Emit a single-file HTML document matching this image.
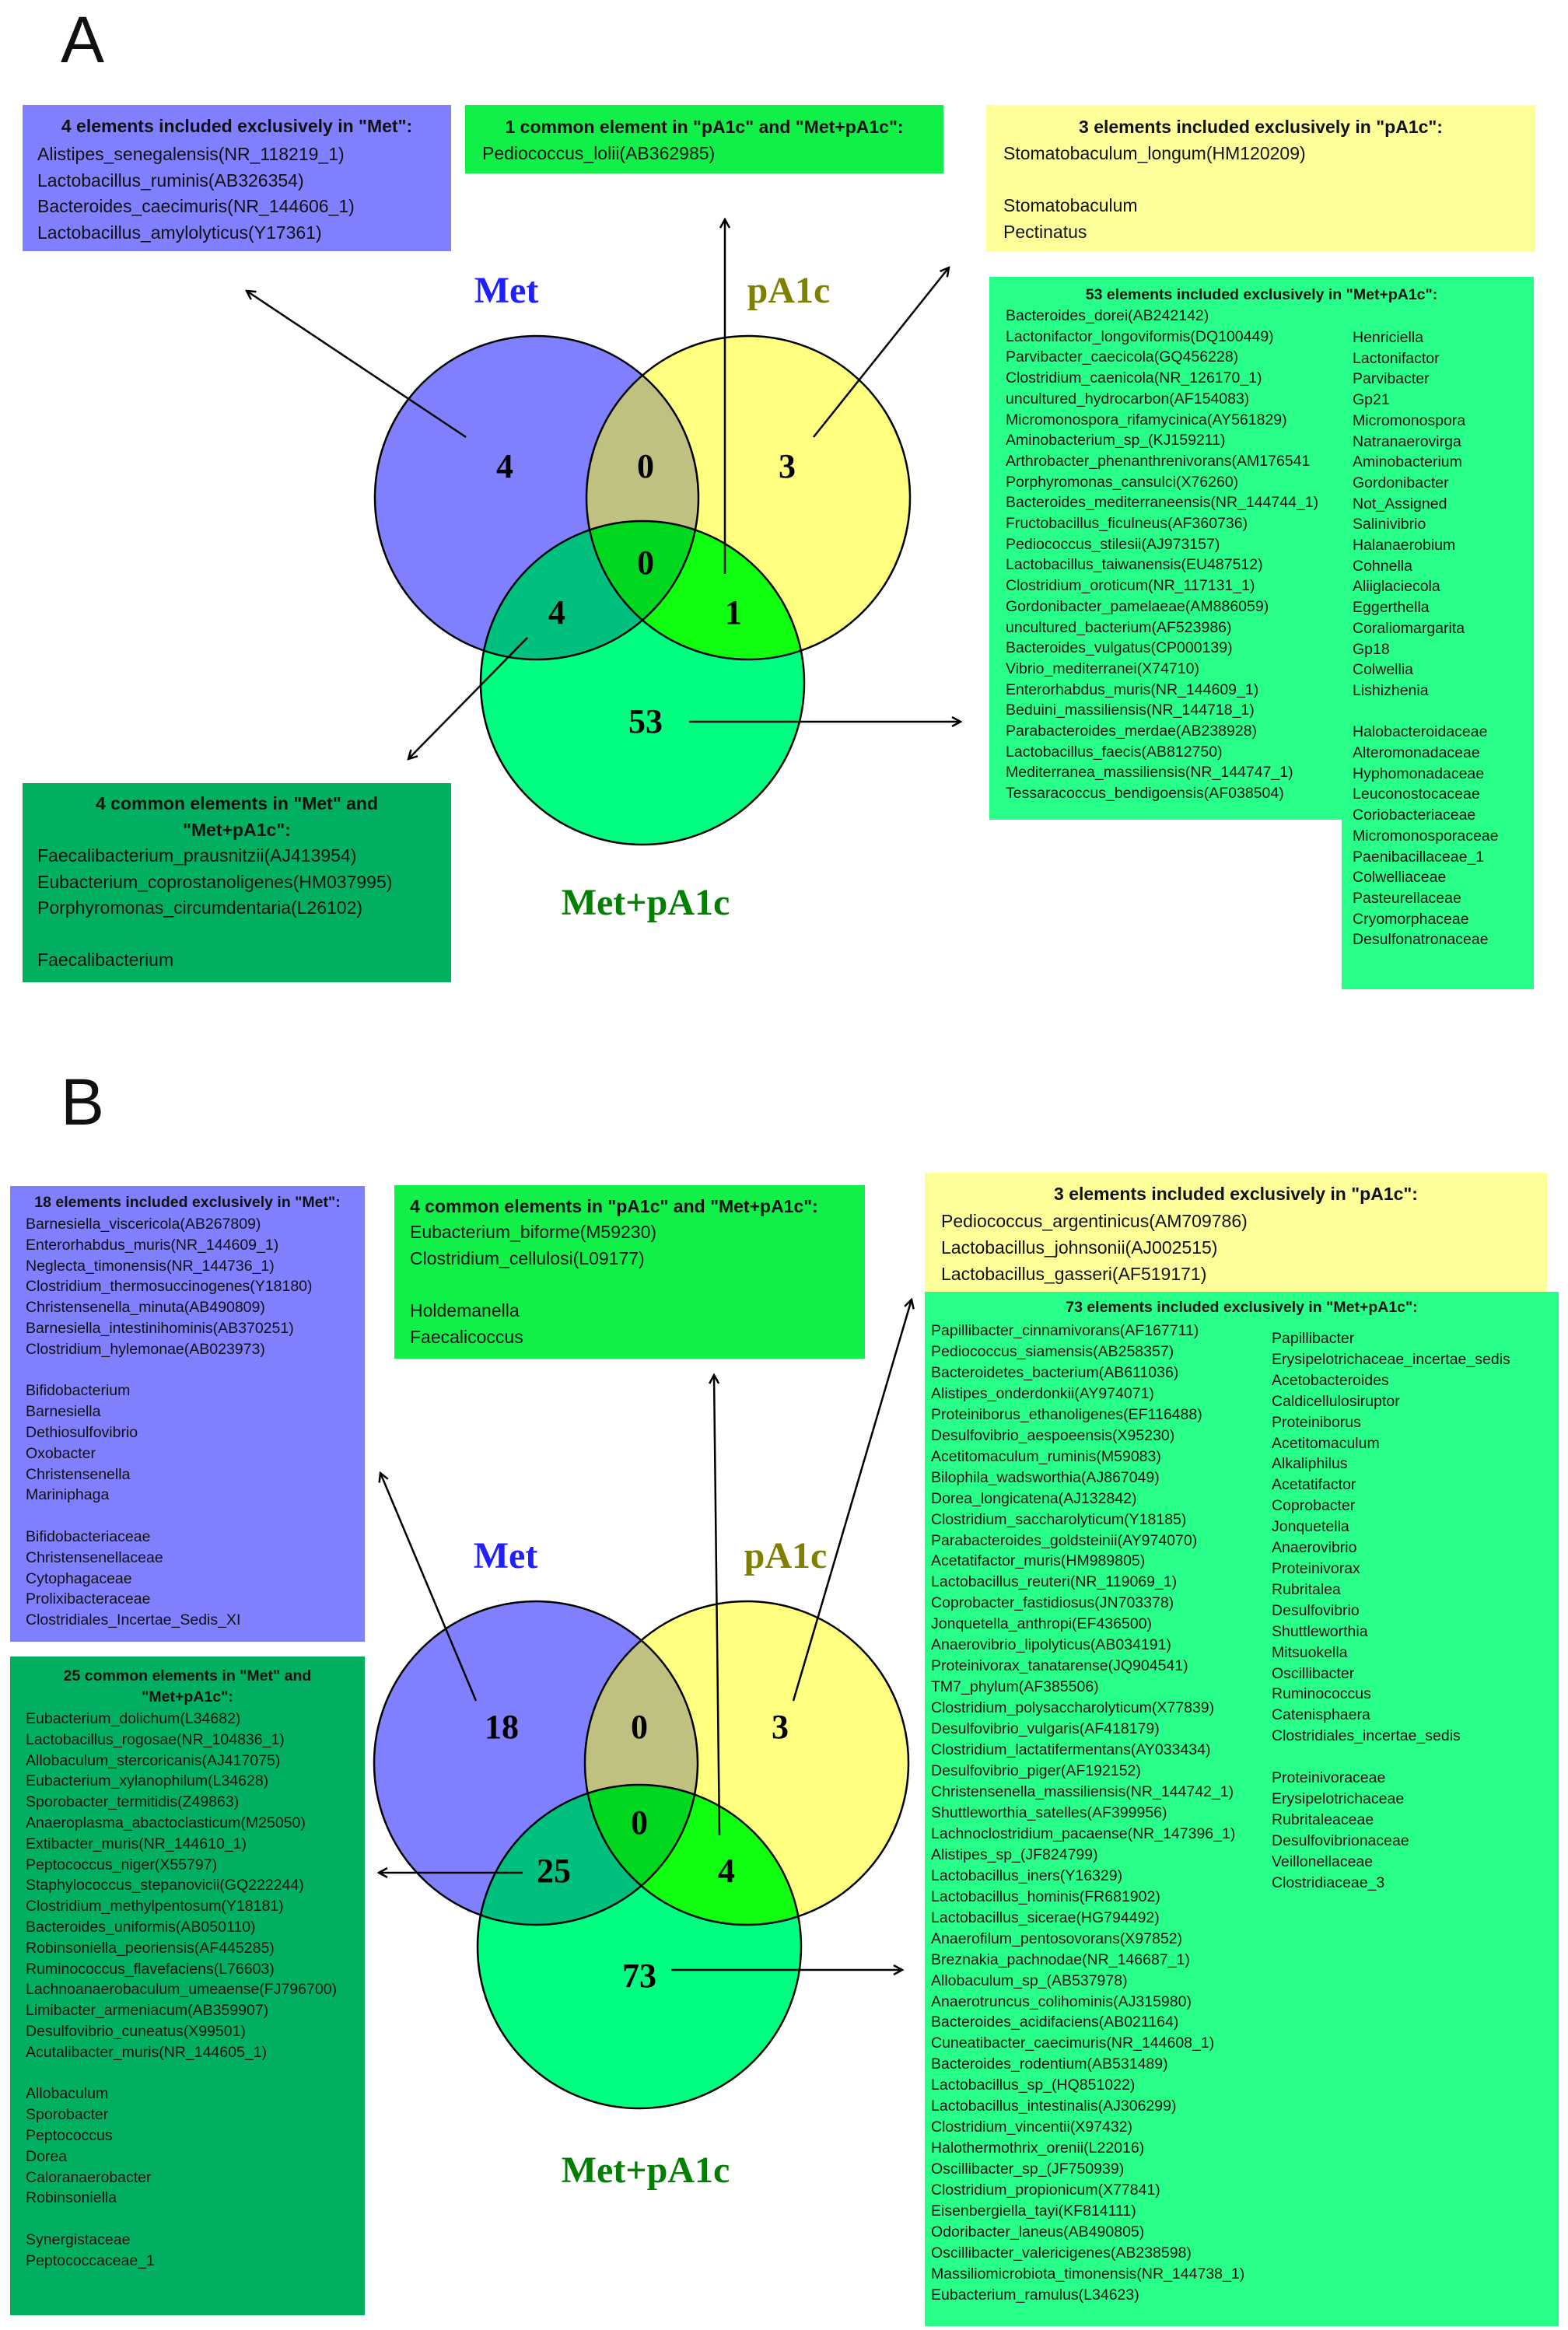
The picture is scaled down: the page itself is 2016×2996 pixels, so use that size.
<!DOCTYPE html>
<html><head><meta charset="utf-8">
<style>
html,body{margin:0;padding:0;background:#fff;}
body{width:2016px;height:2996px;position:relative;overflow:hidden;font-family:"Liberation Sans",sans-serif;color:#111;}
.box{position:absolute;}
.t{position:absolute;white-space:pre;}
.big{font-size:23px;line-height:33.5px;}
.sm{font-size:19.5px;line-height:26.8px;}
.b{font-weight:bold;}
.c{text-align:center;}
svg{position:absolute;left:0;top:0;}
</style></head><body>

<div class="t" style="left:78px;top:6px;font-size:84px;line-height:90px;">A</div>
<div class="t" style="left:78px;top:1372px;font-size:84px;line-height:90px;">B</div>

<!-- Panel A boxes -->
<div class="box" style="left:29px;top:135px;width:551px;height:188px;background:#8080ff;"></div>
<div class="t big b c" style="left:29px;top:146px;width:551px;">4 elements included exclusively in "Met":</div>
<div class="t big" style="left:48px;top:182px;">Alistipes_senegalensis(NR_118219_1)
Lactobacillus_ruminis(AB326354)
Bacteroides_caecimuris(NR_144606_1)
Lactobacillus_amylolyticus(Y17361)</div>

<div class="box" style="left:598px;top:135px;width:615px;height:88px;background:#10f048;"></div>
<div class="t big b c" style="left:598px;top:147px;width:615px;">1 common element in "pA1c" and "Met+pA1c":</div>
<div class="t big" style="left:620px;top:181px;">Pediococcus_lolii(AB362985)</div>

<div class="box" style="left:1268px;top:135px;width:706px;height:189px;background:#ffff99;"></div>
<div class="t big b c" style="left:1268px;top:147px;width:706px;">3 elements included exclusively in "pA1c":</div>
<div class="t big" style="left:1290px;top:181px;">Stomatobaculum_longum(HM120209)

Stomatobaculum
Pectinatus</div>

<div class="box" style="left:1272px;top:356px;width:700px;height:698px;background:#28ff88;"></div>
<div class="box" style="left:1725px;top:1054px;width:247px;height:218px;background:#28ff88;"></div>
<div class="t b c" style="left:1272px;top:368px;width:700px;font-size:19.5px;">53 elements included exclusively in "Met+pA1c":</div>
<div class="t sm" style="left:1293px;top:393px;line-height:26.7px;">Bacteroides_dorei(AB242142)
Lactonifactor_longoviformis(DQ100449)
Parvibacter_caecicola(GQ456228)
Clostridium_caenicola(NR_126170_1)
uncultured_hydrocarbon(AF154083)
Micromonospora_rifamycinica(AY561829)
Aminobacterium_sp_(KJ159211)
Arthrobacter_phenanthrenivorans(AM176541
Porphyromonas_cansulci(X76260)
Bacteroides_mediterraneensis(NR_144744_1)
Fructobacillus_ficulneus(AF360736)
Pediococcus_stilesii(AJ973157)
Lactobacillus_taiwanensis(EU487512)
Clostridium_oroticum(NR_117131_1)
Gordonibacter_pamelaeae(AM886059)
uncultured_bacterium(AF523986)
Bacteroides_vulgatus(CP000139)
Vibrio_mediterranei(X74710)
Enterorhabdus_muris(NR_144609_1)
Beduini_massiliensis(NR_144718_1)
Parabacteroides_merdae(AB238928)
Lactobacillus_faecis(AB812750)
Mediterranea_massiliensis(NR_144747_1)
Tessaracoccus_bendigoensis(AF038504)</div>
<div class="t sm" style="left:1739px;top:421px;line-height:26.7px;">Henriciella
Lactonifactor
Parvibacter
Gp21
Micromonospora
Natranaerovirga
Aminobacterium
Gordonibacter
Not_Assigned
Salinivibrio
Halanaerobium
Cohnella
Aliiglaciecola
Eggerthella
Coraliomargarita
Gp18
Colwellia
Lishizhenia

Halobacteroidaceae
Alteromonadaceae
Hyphomonadaceae
Leuconostocaceae
Coriobacteriaceae
Micromonosporaceae
Paenibacillaceae_1
Colwelliaceae
Pasteurellaceae
Cryomorphaceae
Desulfonatronaceae</div>

<div class="box" style="left:29px;top:1007px;width:551px;height:256px;background:#00b060;"></div>
<div class="t big b c" style="left:29px;top:1017px;width:551px;">4 common elements in "Met" and
"Met+pA1c":</div>
<div class="t big" style="left:48px;top:1084px;">Faecalibacterium_prausnitzii(AJ413954)
Eubacterium_coprostanoligenes(HM037995)
Porphyromonas_circumdentaria(L26102)

Faecalibacterium</div>

<!-- Panel B boxes -->
<div class="box" style="left:13px;top:1525px;width:456px;height:586px;background:#8080ff;"></div>
<div class="t b c" style="left:13px;top:1535px;width:456px;font-size:19.5px;">18 elements included exclusively in "Met":</div>
<div class="t sm" style="left:33px;top:1561px;">Barnesiella_viscericola(AB267809)
Enterorhabdus_muris(NR_144609_1)
Neglecta_timonensis(NR_144736_1)
Clostridium_thermosuccinogenes(Y18180)
Christensenella_minuta(AB490809)
Barnesiella_intestinihominis(AB370251)
Clostridium_hylemonae(AB023973)

Bifidobacterium
Barnesiella
Dethiosulfovibrio
Oxobacter
Christensenella
Mariniphaga

Bifidobacteriaceae
Christensenellaceae
Cytophagaceae
Prolixibacteraceae
Clostridiales_Incertae_Sedis_XI</div>

<div class="box" style="left:13px;top:2130px;width:456px;height:847px;background:#00b060;"></div>
<div class="t b c" style="left:13px;top:2142px;width:456px;font-size:19.5px;line-height:27px;">25 common elements in "Met" and
"Met+pA1c":</div>
<div class="t sm" style="left:33px;top:2197px;line-height:26.8px;">Eubacterium_dolichum(L34682)
Lactobacillus_rogosae(NR_104836_1)
Allobaculum_stercoricanis(AJ417075)
Eubacterium_xylanophilum(L34628)
Sporobacter_termitidis(Z49863)
Anaeroplasma_abactoclasticum(M25050)
Extibacter_muris(NR_144610_1)
Peptococcus_niger(X55797)
Staphylococcus_stepanovicii(GQ222244)
Clostridium_methylpentosum(Y18181)
Bacteroides_uniformis(AB050110)
Robinsoniella_peoriensis(AF445285)
Ruminococcus_flavefaciens(L76603)
Lachnoanaerobaculum_umeaense(FJ796700)
Limibacter_armeniacum(AB359907)
Desulfovibrio_cuneatus(X99501)
Acutalibacter_muris(NR_144605_1)

Allobaculum
Sporobacter
Peptococcus
Dorea
Caloranaerobacter
Robinsoniella

Synergistaceae
Peptococcaceae_1</div>

<div class="box" style="left:507px;top:1524px;width:605px;height:223px;background:#10f048;"></div>
<div class="t big b" style="left:527px;top:1535px;">4 common elements in "pA1c" and "Met+pA1c":</div>
<div class="t big" style="left:527px;top:1568px;line-height:33.8px;">Eubacterium_biforme(M59230)
Clostridium_cellulosi(L09177)

Holdemanella
Faecalicoccus</div>

<div class="box" style="left:1189px;top:1508px;width:800px;height:153px;background:#ffff99;"></div>
<div class="t big b c" style="left:1189px;top:1519px;width:800px;">3 elements included exclusively in "pA1c":</div>
<div class="t big" style="left:1210px;top:1553px;line-height:34px;">Pediococcus_argentinicus(AM709786)
Lactobacillus_johnsonii(AJ002515)
Lactobacillus_gasseri(AF519171)</div>

<div class="box" style="left:1189px;top:1661px;width:815px;height:1330px;background:#28ff88;"></div>
<div class="t b c" style="left:1189px;top:1670px;width:815px;font-size:19.5px;">73 elements included exclusively in "Met+pA1c":</div>
<div class="t sm" style="left:1197px;top:1698px;line-height:26.95px;">Papillibacter_cinnamivorans(AF167711)
Pediococcus_siamensis(AB258357)
Bacteroidetes_bacterium(AB611036)
Alistipes_onderdonkii(AY974071)
Proteiniborus_ethanoligenes(EF116488)
Desulfovibrio_aespoeensis(X95230)
Acetitomaculum_ruminis(M59083)
Bilophila_wadsworthia(AJ867049)
Dorea_longicatena(AJ132842)
Clostridium_saccharolyticum(Y18185)
Parabacteroides_goldsteinii(AY974070)
Acetatifactor_muris(HM989805)
Lactobacillus_reuteri(NR_119069_1)
Coprobacter_fastidiosus(JN703378)
Jonquetella_anthropi(EF436500)
Anaerovibrio_lipolyticus(AB034191)
Proteinivorax_tanatarense(JQ904541)
TM7_phylum(AF385506)
Clostridium_polysaccharolyticum(X77839)
Desulfovibrio_vulgaris(AF418179)
Clostridium_lactatifermentans(AY033434)
Desulfovibrio_piger(AF192152)
Christensenella_massiliensis(NR_144742_1)
Shuttleworthia_satelles(AF399956)
Lachnoclostridium_pacaense(NR_147396_1)
Alistipes_sp_(JF824799)
Lactobacillus_iners(Y16329)
Lactobacillus_hominis(FR681902)
Lactobacillus_sicerae(HG794492)
Anaerofilum_pentosovorans(X97852)
Breznakia_pachnodae(NR_146687_1)
Allobaculum_sp_(AB537978)
Anaerotruncus_colihominis(AJ315980)
Bacteroides_acidifaciens(AB021164)
Cuneatibacter_caecimuris(NR_144608_1)
Bacteroides_rodentium(AB531489)
Lactobacillus_sp_(HQ851022)
Lactobacillus_intestinalis(AJ306299)
Clostridium_vincentii(X97432)
Halothermothrix_orenii(L22016)
Oscillibacter_sp_(JF750939)
Clostridium_propionicum(X77841)
Eisenbergiella_tayi(KF814111)
Odoribacter_laneus(AB490805)
Oscillibacter_valericigenes(AB238598)
Massiliomicrobiota_timonensis(NR_144738_1)
Eubacterium_ramulus(L34623)</div>
<div class="t sm" style="left:1635px;top:1708px;line-height:26.9px;">Papillibacter
Erysipelotrichaceae_incertae_sedis
Acetobacteroides
Caldicellulosiruptor
Proteiniborus
Acetitomaculum
Alkaliphilus
Acetatifactor
Coprobacter
Jonquetella
Anaerovibrio
Proteinivorax
Rubritalea
Desulfovibrio
Shuttleworthia
Mitsuokella
Oscillibacter
Ruminococcus
Catenisphaera
Clostridiales_incertae_sedis

Proteinivoraceae
Erysipelotrichaceae
Rubritaleaceae
Desulfovibrionaceae
Veillonellaceae
Clostridiaceae_3</div>

<svg width="2016" height="2996" viewBox="0 0 2016 2996">
<defs>
<marker id="ar" markerWidth="14" markerHeight="14" refX="12" refY="7" orient="auto" markerUnits="userSpaceOnUse">
<path d="M1,1 L12,7 L1,13" fill="none" stroke="#000" stroke-width="2.5"/>
</marker>
<clipPath id="aM"><circle cx="690" cy="640" r="208"/></clipPath>
<clipPath id="aP"><circle cx="962" cy="640" r="208"/></clipPath>
<clipPath id="aB"><circle cx="826" cy="878" r="208"/></clipPath>
<clipPath id="bM"><circle cx="689" cy="2267" r="208"/></clipPath>
<clipPath id="bP"><circle cx="960" cy="2267" r="208"/></clipPath>
<clipPath id="bB"><circle cx="822" cy="2503" r="208"/></clipPath>
</defs>

<!-- Venn A -->
<circle cx="690" cy="640" r="208" fill="#8080ff"/>
<circle cx="962" cy="640" r="208" fill="#ffff80"/>
<circle cx="826" cy="878" r="208" fill="#00ff80"/>
<g clip-path="url(#aM)"><circle cx="962" cy="640" r="208" fill="#c0c080"/><circle cx="826" cy="878" r="208" fill="#00c080"/></g>
<g clip-path="url(#aP)"><circle cx="826" cy="878" r="208" fill="#10ff10"/></g>
<g clip-path="url(#aM)"><g clip-path="url(#aP)"><circle cx="826" cy="878" r="208" fill="#00d820"/></g></g>
<g fill="none" stroke="#000" stroke-width="2.5">
<circle cx="690" cy="640" r="208"/><circle cx="962" cy="640" r="208"/><circle cx="826" cy="878" r="208"/>
</g>
<g font-family="Liberation Serif,serif" font-weight="bold" text-anchor="middle">
<text x="651" y="389" font-size="48" fill="#2020ff">Met</text>
<text x="1014" y="389" font-size="48" fill="#808000">pA1c</text>
<text x="830" y="1176" font-size="48" fill="#008000">Met+pA1c</text>
<g font-size="44" fill="#000">
<text x="649" y="614">4</text><text x="830" y="614">0</text><text x="1012" y="614">3</text>
<text x="830" y="738">0</text><text x="716" y="802">4</text><text x="943" y="802">1</text>
<text x="830" y="942">53</text></g>
</g>
<g stroke="#000" stroke-width="2.5" fill="none" marker-end="url(#ar)">
<line x1="599" y1="562" x2="317" y2="374"/>
<line x1="932" y1="738" x2="932" y2="282"/>
<line x1="1046" y1="562" x2="1220" y2="344"/>
<line x1="678" y1="820" x2="525" y2="976"/>
<line x1="886" y1="928" x2="1235" y2="928"/>
</g>

<!-- Venn B -->
<circle cx="689" cy="2267" r="208" fill="#8080ff"/>
<circle cx="960" cy="2267" r="208" fill="#ffff80"/>
<circle cx="822" cy="2503" r="208" fill="#00ff80"/>
<g clip-path="url(#bM)"><circle cx="960" cy="2267" r="208" fill="#c0c080"/><circle cx="822" cy="2503" r="208" fill="#00c080"/></g>
<g clip-path="url(#bP)"><circle cx="822" cy="2503" r="208" fill="#10ff10"/></g>
<g clip-path="url(#bM)"><g clip-path="url(#bP)"><circle cx="822" cy="2503" r="208" fill="#00d820"/></g></g>
<g fill="none" stroke="#000" stroke-width="2.5">
<circle cx="689" cy="2267" r="208"/><circle cx="960" cy="2267" r="208"/><circle cx="822" cy="2503" r="208"/>
</g>
<g font-family="Liberation Serif,serif" font-weight="bold" text-anchor="middle">
<text x="650" y="2016" font-size="48" fill="#2020ff">Met</text>
<text x="1010" y="2016" font-size="48" fill="#808000">pA1c</text>
<text x="830" y="2806" font-size="48" fill="#008000">Met+pA1c</text>
<g font-size="44" fill="#000">
<text x="645" y="2235">18</text><text x="822" y="2235">0</text><text x="1003" y="2235">3</text>
<text x="822" y="2358">0</text><text x="712" y="2420">25</text><text x="934" y="2420">4</text>
<text x="822" y="2555">73</text></g>
</g>
<g stroke="#000" stroke-width="2.5" fill="none" marker-end="url(#ar)">
<line x1="612" y1="2187" x2="489" y2="1894"/>
<line x1="925" y1="2360" x2="918" y2="1768"/>
<line x1="1020" y1="2187" x2="1172" y2="1671"/>
<line x1="672" y1="2408" x2="487" y2="2408"/>
<line x1="863" y1="2533" x2="1160" y2="2533"/>
</g>
</svg>
</body></html>
